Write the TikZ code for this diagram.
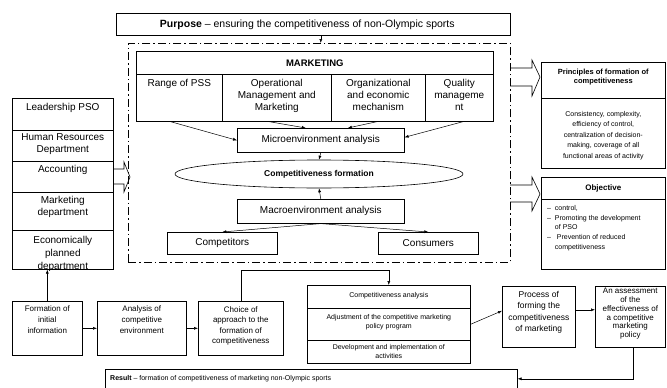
\documentclass[tikz,border=0pt]{standalone}
\usepackage{fontspec}
\setmainfont{Liberation Sans}
\usetikzlibrary{shapes.geometric,arrows.meta,calc}
\newcommand{\mybox}[6][]{\node[draw, line width=0.6pt, inner sep=0pt, anchor=north west, minimum width={(#5-#3)*1pt}, minimum height={(#6-#4)*1pt}, #1] (#2) at (#3,#4) {};}
\begin{document}
\begin{tikzpicture}[x=1pt,y=-1pt,
  arr/.style={-{Latex[length=4pt,width=3pt]}, line width=0.5pt},
  lbl/.style={font=\fontsize{10}{12}\selectfont, align=center, inner sep=0pt, anchor=north},
  mid/.style={font=\fontsize{8}{10.5}\selectfont, align=center, inner sep=0pt, anchor=north},
  sml/.style={font=\fontsize{7}{9}\selectfont, align=center, inner sep=0pt, anchor=north},
  blk/.style={line width=0.6pt}]
\useasboundingbox (0,0) rectangle (667,388);

% Purpose
\mybox{purpose}{116}{13}{510}{35}
\node[font=\fontsize{10.5}{12}\selectfont, inner sep=0pt] (purposet) at ([xshift=-6pt]purpose.center) {\textbf{Purpose} – ensuring the competitiveness of non-Olympic sports};

% dash-dot frame
\mybox[line width=0.9pt, dash pattern=on 8pt off 3pt on 1.5pt off 3pt]{frame}{128}{43}{510}{262}

% MARKETING
\mybox{mkt}{136}{51}{493}{74}
\node[font=\fontsize{9.5}{11}\selectfont\bfseries, inner sep=0pt] (mktt) at (mkt.center) {MARKETING};
\mybox{c1}{136}{74}{222}{121}
\mybox{c2}{222}{74}{331}{121}
\mybox{c3}{331}{74}{425}{121}
\mybox{c4}{425}{74}{493}{121}
\node[lbl] (c1t) at ([yshift=-5pt]c1.north) {Range of PSS};
\node[lbl] (c2t) at ([yshift=-5pt]c2.north) {Operational\\Management and\\Marketing};
\node[lbl] (c3t) at ([yshift=-5pt]c3.north) {Organizational\\and economic\\mechanism};
\node[lbl] (c4t) at ([yshift=-5pt]c4.north) {Quality\\manageme\\nt};

% Micro / ellipse / macro
\mybox{micro}{237}{128}{404}{152}
\node[font=\fontsize{10}{12}\selectfont, inner sep=0pt] (microt) at (micro.center) {Microenvironment analysis};
\node[draw, line width=0.6pt, ellipse, minimum width=288pt, minimum height=28pt, inner sep=0pt,
  font=\fontsize{8.5}{10}\selectfont\bfseries] (ell) at (319,174) {Competitiveness formation};
\mybox{macro}{237}{199}{404}{223}
\node[font=\fontsize{10}{12}\selectfont, inner sep=0pt] (macrot) at (macro.center) {Macroenvironment analysis};
\mybox{comp}{167}{232}{277}{254}
\node[font=\fontsize{10}{12}\selectfont, inner sep=0pt] (compt) at (comp.center) {Competitors};
\mybox{cons}{378}{232}{478}{254}
\node[font=\fontsize{10}{12}\selectfont, inner sep=0pt] (const) at (cons.center) {Consumers};

\draw[arr] ([xshift=-9pt]c1.south) -- (micro.west);
\draw[arr] ([xshift=-8pt]c2.south) -- ([xshift=-15pt]micro.north);
\draw[arr] ([xshift=-1pt]c3.south) -- ([xshift=27pt]micro.north);
\draw[arr] ([xshift=4pt]c4.south) -- ([yshift=3pt]micro.east);
\draw[arr] (micro.south) -- (ell.north);
\draw[arr] (macro.north) -- (ell.south);
\draw[arr] (macro.south) -- (comp.north);
\draw[arr] (macro.south) -- (cons.north);
\draw[arr] (purpose.south -| micro.north) -- (frame.north -| micro.north);

% Left stack
\mybox{lead}{12}{98}{113}{130}
\mybox{hr}{12}{130}{113}{161}
\mybox{acc}{12}{161}{113}{192}
\mybox{mdep}{12}{192}{113}{230}
\mybox{econ}{12}{230}{113}{269}
\node[lbl] (leadt) at ([yshift=-5pt]lead.north) {Leadership PSO};
\node[lbl] (hrt) at ([yshift=-3pt]hr.north) {Human Resources\\Department};
\node[lbl] (acct) at ([yshift=-4pt]acc.north) {Accounting};
\node[lbl] (mdept) at ([yshift=-4pt]mdep.north) {Marketing\\department};
\begin{scope}
\clip (econ.north west) rectangle ([yshift=-0.5pt]econ.south east);
\node[lbl, font=\fontsize{10}{13}\selectfont] (econt) at ([yshift=-6pt]econ.north) {Economically\\planned\\department};
\end{scope}
\draw[blk] (113,169) -- (124,169) -- (124,162) -- (130,177) -- (124,192) -- (124,184) -- (113,184);

% Right side
\mybox{prt}{541}{62}{665}{98}
\mybox{prb}{541}{98}{665}{168}
\node[sml, font=\fontsize{7.5}{9}\selectfont\bfseries] (prtt) at ([yshift=-7pt]prt.north) {Principles of formation of\\competitiveness};
\node[sml, font=\fontsize{7}{10.5}\selectfont] (prbt) at ([yshift=-13pt]prb.north) {Consistency, complexity,\\efficiency of control,\\centralization of decision-\\making, coverage of all\\functional areas of activity};
\mybox{obt}{541}{177}{665}{199}
\mybox{obb}{541}{199}{665}{269}
\node[font=\fontsize{8}{10}\selectfont\bfseries, inner sep=0pt] (obtt) at (obt.center) {Objective};
\node[font=\fontsize{7}{9.8}\selectfont, align=left, inner sep=0pt, anchor=north west] (obbt) at ([xshift=6pt,yshift=-6pt]obb.north west)
  {–\ \ control,\\–\ \ Promoting the development\\\phantom{–\ \ }of PSO\\–\ \ \ Prevention of reduced\\\phantom{–\ \ }competitiveness};
\draw[blk] (510,68) -- (532,68) -- (532,60) -- (540,77) -- (532,96) -- (532,86) -- (510,86);
\draw[blk] (510,185) -- (532,185) -- (532,177) -- (540,194) -- (532,211) -- (532,202) -- (510,202);

% Bottom row
\mybox{form}{12}{301}{82}{355}
\mybox{anal}{97}{301}{186}{355}
\mybox{choice}{198}{301}{283}{355}
\node[mid] (formt) at ([yshift=-5pt]form.north) {Formation of\\initial\\information};
\node[mid] (analt) at ([yshift=-5pt]anal.north) {Analysis of\\competitive\\environment};
\node[mid] (choicet) at ([yshift=-5pt]choice.north) {Choice of\\approach to the\\formation of\\competitiveness};
\draw[arr] (form.east) -- (anal.west);
\draw[arr] (anal.east) -- (choice.west);
\draw[arr] (form.north) -- (form.north |- econ.south);

\mybox{ms1}{307}{285}{470}{308}
\mybox{ms2}{307}{308}{470}{340}
\mybox{ms3}{307}{340}{470}{363}
\node[sml] (ms1t) at ([yshift=-7pt]ms1.north) {Competitiveness analysis};
\node[sml] (ms2t) at ([yshift=-6pt]ms2.north) {Adjustment of the competitive marketing\\policy program};
\node[sml] (ms3t) at ([yshift=-4pt]ms3.north) {Development and implementation of\\activities};
\draw[arr] (choice.north) -- ++(0,-31) -| (ms1.north);

\mybox{proc}{502}{286}{575}{347}
\mybox{assess}{595}{286}{665}{347}
\node[mid, font=\fontsize{8.5}{11.5}\selectfont] (proct) at ([yshift=-5pt]proc.north) {Process of\\forming the\\competitiveness\\of marketing};
\node[mid, font=\fontsize{8}{8.8}\selectfont] (assesst) at ([yshift=-2pt]assess.north) {An assessment\\of the\\effectiveness of\\a competitive\\marketing\\policy};
\draw[arr] (ms2.east) -- ([yshift=6pt]proc.west);
\draw[arr] ([yshift=7pt]proc.east) -- ([yshift=7pt]assess.west);

\mybox{result}{105}{369}{517}{388}
\node[font=\fontsize{7}{9}\selectfont, inner sep=0pt, anchor=west] (resultt) at ([xshift=5pt]result.west) {\textbf{Result} – formation of competitiveness of marketing non-Olympic sports};
\draw[arr] ([xshift=3pt]assess.south) |- (result.east);
\end{tikzpicture}
\end{document}
